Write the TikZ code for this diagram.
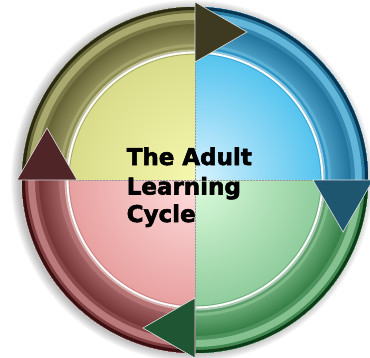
\documentclass[tikz,border=0pt]{standalone}
\usepackage{fontspec}
\setmainfont{DejaVu Sans}
\newfontfamily\cycletitlefont{DejaVu Sans Bold}[FakeBold=2.5]

% quadrant colours: band, inner, outer
\definecolor{yBand}{HTML}{8E8E52}\definecolor{yIn}{HTML}{F6F8AE}\definecolor{yOut}{HTML}{D8DC8A}
\definecolor{bBand}{HTML}{2E96C6}\definecolor{bIn}{HTML}{DAF3FF}\definecolor{bOut}{HTML}{55C4EE}
\definecolor{gBand}{HTML}{5E9E6C}\definecolor{gIn}{HTML}{DDFCDD}\definecolor{gOut}{HTML}{8FCC9C}
\definecolor{rBand}{HTML}{B87272}\definecolor{rIn}{HTML}{FFDEDE}\definecolor{rOut}{HTML}{E8A0A0}
% arrow colours: dark, light, rim, head
\definecolor{yDark}{HTML}{5E5C30}\definecolor{yLight}{HTML}{CBCB8C}\definecolor{yRim}{HTML}{2A2912}\definecolor{yHead}{HTML}{3E3A22}
\definecolor{bDark}{HTML}{1B6F98}\definecolor{bLight}{HTML}{80D4F6}\definecolor{bRim}{HTML}{0A3550}\definecolor{bHead}{HTML}{1E5670}
\definecolor{gDark}{HTML}{2F7A40}\definecolor{gLight}{HTML}{AADFB2}\definecolor{gRim}{HTML}{0D3A18}\definecolor{gHead}{HTML}{1F5533}
\definecolor{rDark}{HTML}{6E2E30}\definecolor{rLight}{HTML}{DA9A9B}\definecolor{rRim}{HTML}{3A1010}\definecolor{rHead}{HTML}{4F2527}

% one quadrant of the inner disc: #1 start angle, #2 band, #3 inner, #4 outer
\newcommand\cyclequadrant[4]{%
  \begin{scope}
    \clip (0,0) -- (#1:140pt) arc[start angle=#1, end angle=#1+90, radius=140pt] -- cycle;
    \fill[#2] (0,0) circle[radius=134pt];
    \fill[#2!55!white] (0,0) circle[radius=130.5pt];
    \shade[inner color=#3, outer color=#4] (0,0) circle[radius=126.5pt];
    \draw[#2, line width=0.8pt, opacity=0.6] (0,0) circle[radius=125.8pt];
    \draw[white, line width=1.8pt] (0,0) circle[radius=127.5pt];
  \end{scope}}

% curved shaft ending at angle #1 (clockwise): #2 dark, #3 light, #4 rim
\newcommand\cycleshaft[4]{%
  \begin{scope}[rotate=#1]
    \foreach \r in {133,134,...,169}{
      \pgfmathtruncatemacro\p{\r<136 ? 65 : (\r<156 ? 45-2*(\r-136) : (\r<160 ? 25 : (\r<167 ? 70 : 15)))}
      \fill[#3!\p!#2] (90:\r pt) arc[start angle=90, end angle=0, radius=\r pt]
        -- (0:173pt) arc[start angle=0, end angle=90, radius=173pt] -- cycle;
    }
    \fill[#4] (90:170pt) arc[start angle=90, end angle=0, radius=170pt]
      -- (0:173pt) arc[start angle=0, end angle=90, radius=173pt] -- cycle;
  \end{scope}}

% arrow head whose base lies on the radius at angle #1
\newcommand\cyclehead[2]{%
  \begin{scope}[rotate=#1]
    \filldraw[fill=#2, headtip] (118pt,0) -- (148pt,-52pt) -- (178pt,0) -- cycle;
  \end{scope}}

\begin{document}
\begin{tikzpicture}[x=1pt, y=1pt,
  headtip/.style={draw=white!75!gray, line width=0.6pt, line join=miter},
  divider/.style={gray!80, line width=0.5pt, densely dotted},
  title/.style={font=\cycletitlefont\fontsize{23}{28}\selectfont, anchor=base west, inner sep=0pt, text=black}]
\useasboundingbox (0,0) rectangle (370,357);

\begin{scope}[shift={(195,177)}]
  % soft shadow round the wheel
  \foreach \k in {1,...,9}
    \fill[black, opacity=0.03] (-3,-1) circle[radius={(172+\k)*1pt}];

  % inner disc
  \cyclequadrant{90}{yBand}{yIn}{yOut}
  \cyclequadrant{0}{bBand}{bIn}{bOut}
  \cyclequadrant{270}{gBand}{gIn}{gOut}
  \cyclequadrant{180}{rBand}{rIn}{rOut}

  % dividers between quadrants
  \coordinate (top) at (90:127pt);
  \coordinate (bottom) at (270:127pt);
  \coordinate (left) at (180:127pt);
  \coordinate (right) at (0:127pt);
  \draw[divider] (top) -- (bottom);
  \draw[divider] (left) -- (right);

  % arrow ring
  \cycleshaft{90}{yDark}{yLight}{yRim}
  \cycleshaft{0}{bDark}{bLight}{bRim}
  \cycleshaft{270}{gDark}{gLight}{gRim}
  \cycleshaft{180}{rDark}{rLight}{rRim}

  \cyclehead{90}{yHead}
  \cyclehead{0}{bHead}
  \cyclehead{270}{gHead}
  \cyclehead{180}{rHead}
\end{scope}

\node[title] (t1) at (126.5,192) {The Adult};
\node[title] (t2) at (126.5,162.5) {Learning};
\node[title] (t3) at (126.5,135) {Cycle};
\end{tikzpicture}
\end{document}
